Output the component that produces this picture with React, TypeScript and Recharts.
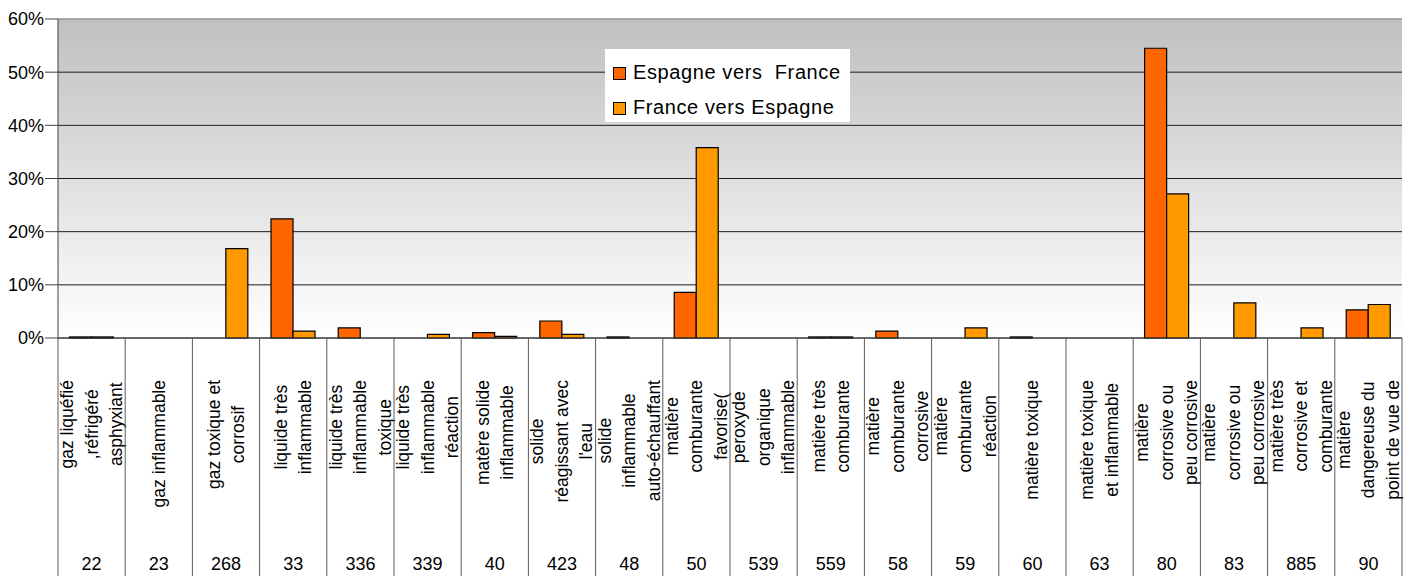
import React from 'react';
import { BarChart, Bar, XAxis, YAxis, CartesianGrid, Legend, ReferenceLine } from 'recharts';

const codes = ['22', '23', '268', '33', '336', '339', '40', '423', '48', '50', '539', '559', '58', '59', '60', '63', '80', '83', '885', '90'];

const labelLines: string[][] = [
  ['gaz liquéfié', ',réfrigéré', 'asphyxiant'],
  ['gaz inflammable'],
  ['gaz toxique et', 'corrosif'],
  ['liquide très', 'inflammable'],
  ['liquide très', 'inflammable', 'toxique'],
  ['liquide très', 'inflammable', 'réaction'],
  ['matère solide', 'inflammable'],
  ['solide', 'réagissant avec', "l'eau"],
  ['solide', 'inflammable', 'auto-échauffant'],
  ['matière', 'comburante', 'favorise('],
  ['peroxyde', 'organique', 'inflammable'],
  ['matière très', 'comburante'],
  ['matière', 'comburante', 'corrosive'],
  ['matière', 'comburante', 'réaction'],
  ['matière toxique'],
  ['matière toxique', 'et inflammable'],
  ['matière', 'corrosive ou', 'peu corrosive'],
  ['matière', 'corrosive ou', 'peu corrosive'],
  ['matière très', 'corrosive et', 'comburante'],
  ['matière', 'dangereuse du', 'point de vue de'],
];

const espagneVersFrance = [0.2, 0, 0, 22.4, 1.9, 0, 1.0, 3.2, 0.2, 8.6, 0, 0.2, 1.3, 0, 0.2, 0, 54.5, 0, 0, 5.3];
const franceVersEspagne = [0.2, 0, 16.8, 1.3, 0, 0.7, 0.3, 0.7, 0, 35.8, 0, 0.2, 0, 1.9, 0, 0, 27.1, 6.6, 1.9, 6.3];

const yTicks = [0, 10, 20, 30, 40, 50, 60];

const seriesNames = ['Espagne vers  France', 'France vers Espagne'];
const seriesColors = ['#FF6600', '#FF9900'];

const data = codes.map((code, i) => ({
  code,
  lines: labelLines[i],
  esfr: espagneVersFrance[i],
  fres: franceVersEspagne[i],
}));

const FONT = '"Liberation Sans", Arial, sans-serif';
const LABEL_SIZE = 17.5;

let ctx: CanvasRenderingContext2D | null = null;
const measure = (t: string, size: number) => {
  if (!ctx) ctx = document.createElement('canvas').getContext('2d');
  if (!ctx) return t.length * size * 0.5;
  ctx.font = `${size}px ${FONT}`;
  return ctx.measureText(t).width;
};

const CategoryTick = (props: any) => {
  const { x, y, payload, index, width } = props;
  const half = payload && typeof payload.offset === 'number' && payload.offset > 0 ? payload.offset : width / codes.length / 2;
  const lines = labelLines[index] || [];
  const maxLen = Math.max(0, ...lines.map((l) => measure(l, LABEL_SIZE)));
  const cy = y + 42 + maxLen / 2;
  const spacing = 24.5;
  const sepColor = '#5a5a5a';
  return (
    <g>
      <line x1={x - half} y1={y} x2={x - half} y2={y + 240} stroke={sepColor} strokeWidth={1} />
      {index === codes.length - 1 && (
        <line x1={x + half} y1={y} x2={x + half} y2={y + 240} stroke={sepColor} strokeWidth={1} />
      )}
      {lines.map((l, i) => {
        const lx = x + (i - (lines.length - 1) / 2) * spacing;
        return (
          <text
            key={i}
            x={lx}
            y={cy}
            transform={`rotate(-90, ${lx}, ${cy})`}
            textAnchor="middle"
            dominantBaseline="central"
            fontSize={LABEL_SIZE}
            fontFamily={FONT}
            fill="#000"
          >
            {l}
          </text>
        );
      })}
      <text x={x} y={y + 226} textAnchor="middle" dominantBaseline="central" fontSize={18} fontFamily={FONT} fill="#000">
        {payload.value}
      </text>
    </g>
  );
};

const LegendBox = () => (
  <div
    style={{
      background: '#fff',
      width: 245,
      height: 73,
      boxSizing: 'border-box',
      padding: '6px 0 0 8px',
      fontFamily: FONT,
      fontSize: 20,
      color: '#000',
    }}
  >
    {seriesNames.map((n, i) => (
      <div key={n} style={{ display: 'flex', alignItems: 'center', height: 35, whiteSpace: 'pre', letterSpacing: 0.6 }}>
        <span
          style={{
            display: 'inline-block',
            width: 11,
            height: 11,
            background: seriesColors[i],
            border: '1px solid #000',
            marginRight: 7,
            marginTop: 2,
          }}
        />
        <span>{n}</span>
      </div>
    ))}
  </div>
);

export default function App() {
  return (
    <div style={{ position: 'absolute', left: 0, top: 0, width: 1414, height: 576, background: '#fff' }}>
      <BarChart
        width={1414}
        height={576}
        data={data}
        margin={{ top: 19, right: 12, bottom: 0, left: 0 }}
        barCategoryGap="17%"
        barGap={0}
      >
        <defs>
          <linearGradient id="plotBg" x1="0" y1="0" x2="0" y2="1">
            <stop offset="0" stopColor="#c0c0c0" />
            <stop offset="1" stopColor="#ffffff" />
          </linearGradient>
        </defs>
        <CartesianGrid vertical={false} stroke="#1e1e1e" fill="url(#plotBg)" fillOpacity={1} />
        <XAxis
          dataKey="code"
          interval={0}
          height={238}
          tickLine={false}
          tickSize={0}
          tickMargin={0}
          axisLine={{ stroke: '#404040' }}
          tick={(p: any) => <CategoryTick {...p} />}
        />
        <YAxis
          domain={[0, 60]}
          ticks={yTicks}
          width={58}
          tickSize={13}
          tickMargin={1}
          interval={0}
          tickFormatter={(v: number) => `${v}%`}
          tick={{ fontSize: 18, fill: '#000', fontFamily: FONT }}
          axisLine={{ stroke: '#404040' }}
          tickLine={{ stroke: '#404040' }}
        />
        <YAxis
          yAxisId="right"
          orientation="right"
          width={0}
          domain={[0, 60]}
          tick={false}
          tickLine={false}
          axisLine={{ stroke: '#8c8c8c', strokeWidth: 2 }}
        />
        <ReferenceLine y={60} stroke="#b4b4b4" strokeWidth={1.5} />
        <Legend
          layout="vertical"
          align="center"
          verticalAlign="middle"
          content={() => <LegendBox />}
          wrapperStyle={{ position: 'absolute', left: 605, top: 49, width: 245, height: 73 }}
        />
        <Bar dataKey="esfr" name={seriesNames[0]} fill={seriesColors[0]} stroke="#000" strokeWidth={1.2} isAnimationActive={false} />
        <Bar dataKey="fres" name={seriesNames[1]} fill={seriesColors[1]} stroke="#000" strokeWidth={1.2} isAnimationActive={false} />
      </BarChart>
    </div>
  );
}
